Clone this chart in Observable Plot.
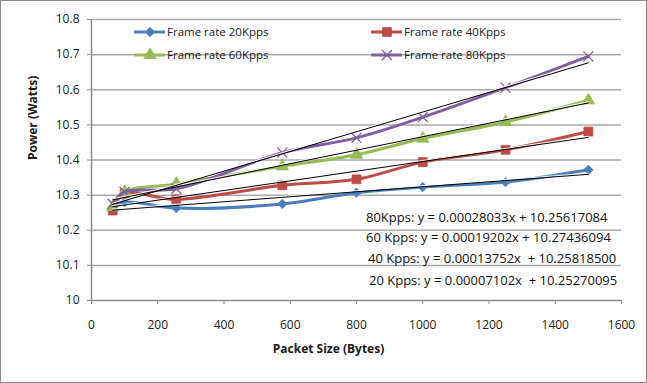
<!DOCTYPE html>
<html><head><meta charset="utf-8">
<script src="https://cdn.jsdelivr.net/npm/d3@7"></script>
<script src="https://cdn.jsdelivr.net/npm/@observablehq/plot@0.6"></script>
<style>
body{margin:0;background:#fff;}
#wrap{position:relative;width:647px;height:383px;font-family:"Open Sans",sans-serif;overflow:hidden;}
#border{position:absolute;left:0;top:0;width:645px;height:381px;border:1px solid #8c8c8c;pointer-events:none;}
.leg{position:absolute;display:flex;align-items:center;font-size:11.5px;color:#1a1a1a;height:16px;line-height:16px;white-space:nowrap;}
.leg svg{margin-right:2px;overflow:visible;}
.eq{position:absolute;font-size:13px;white-space:pre;color:#111;height:16px;line-height:16px;}
</style></head>
<body><div id="wrap"></div>
<script>
// ---- data ----
const packetSize = [64, 100, 256, 576, 800, 1000, 1250, 1500];
const seriesNames = ["Frame rate 20Kpps", "Frame rate 40Kpps", "Frame rate 60Kpps", "Frame rate 80Kpps"];
const power20 = [10.262, 10.280, 10.263, 10.275, 10.307, 10.323, 10.337, 10.372];
const power40 = [10.256, 10.304, 10.288, 10.328, 10.345, 10.394, 10.429, 10.481];
const power60 = [10.266, 10.309, 10.332, 10.382, 10.415, 10.461, 10.508, 10.570];
const power80 = [10.275, 10.309, 10.318, 10.421, 10.463, 10.522, 10.606, 10.695];
const trendSlopes = [0.00007102, 0.00013752, 0.00019202, 0.00028033];
const trendIntercepts = [10.25270095, 10.25818500, 10.27436094, 10.25617084];
const equationLabels = [
  "80Kpps: y = 0.00028033x + 10.25617084",
  "60 Kpps: y = 0.00019202x + 10.27436094",
  "40 Kpps: y = 0.00013752x  + 10.25818500",
  "20 Kpps: y = 0.00007102x  + 10.25270095"
];
const xTicks = [0, 200, 400, 600, 800, 1000, 1200, 1400, 1600];
const yTicks = [10, 10.1, 10.2, 10.3, 10.4, 10.5, 10.6, 10.7, 10.8];
const xTitle = "Packet Size (Bytes)";
const yTitle = "Power (Watts)";

// ---- styles ----
const colors = ["#4A7EBB", "#BE4B48", "#98B954", "#7D60A0"];
const symbols = ["diamond2", "square", "triangle", "times"];
const symRadius = [4.2, 5, 4.6, 4.6];

const allPower = [power20, power40, power60, power80];
const rows = [];
allPower.forEach((vals, i) => vals.forEach((v, j) => rows.push({series: seriesNames[i], x: packetSize[j], y: v})));
const xExt = d3.extent(packetSize);
const trendRows = [];
seriesNames.forEach((s, i) => xExt.forEach(x => trendRows.push({series: s, x, y: trendSlopes[i] * x + trendIntercepts[i]})));

const seriesMarks = [];
seriesNames.forEach((s, i) => {
  const data = rows.filter(d => d.series === s);
  seriesMarks.push(Plot.line(data, {x: "x", y: "y", stroke: colors[i], strokeWidth: 3, curve: "catmull-rom"}));
  const isStroke = symbols[i] === "times";
  seriesMarks.push(Plot.dot(data, {x: "x", y: "y", symbol: () => symbols[i], r: symRadius[i],
    fill: isStroke ? "none" : colors[i], stroke: colors[i], strokeWidth: isStroke ? 1.3 : 0.8}));
});

const chart = Plot.plot({
  width: 647, height: 383,
  marginLeft: 91, marginRight: 26, marginTop: 19, marginBottom: 83,
  style: {fontFamily: "Open Sans, sans-serif", fontSize: "12px", color: "#1a1a1a", background: "white"},
  x: {domain: [0, 1600]},
  y: {domain: [10, 10.8]},
  symbol: {domain: symbols, range: symbols},
  marks: [
    Plot.ruleY(yTicks.slice(1), {stroke: "#a9a9a9", strokeWidth: 1.5}),
    Plot.axisX({ticks: xTicks, tickSize: 4, tickPadding: 16, tickFormat: d => String(d), stroke: "#8c8c8c", label: null, fontSize: 12}),
    Plot.axisY({ticks: yTicks, tickSize: 4, tickPadding: 8, tickFormat: d3.format("~g"), stroke: "#8c8c8c", label: null, fontSize: 12}),
    Plot.ruleY([10], {stroke: "#8c8c8c", strokeWidth: 1.5}),
    Plot.ruleX([0], {stroke: "#8c8c8c", strokeWidth: 1.5}),
    ...seriesMarks,
    Plot.line(trendRows, {x: "x", y: "y", z: "series", stroke: "white", strokeWidth: 1.2, dy: -1, strokeOpacity: 0.9}),
    Plot.line(trendRows, {x: "x", y: "y", z: "series", stroke: "black", strokeWidth: 1}),
    Plot.text([xTitle], {frameAnchor: "bottom", dy: 52, dx: -28, fontWeight: "bold", fontSize: 12}),
    Plot.text([yTitle], {frameAnchor: "left", dx: -58, rotate: -90, fontWeight: "bold", fontSize: 12})
  ]
});

const wrap = document.getElementById("wrap");
wrap.appendChild(chart);

// legend (inside the plot area, 2x2)
const legendPos = [[134, 32], [371, 32], [134, 55], [371, 55]];
seriesNames.forEach((s, i) => {
  const div = document.createElement("div");
  div.className = "leg";
  div.style.left = legendPos[i][0] + "px";
  div.style.top = (legendPos[i][1] - 8) + "px";
  const svg = d3.create("svg").attr("width", 31).attr("height", 16);
  svg.append("line").attr("x1", 0).attr("x2", 31).attr("y1", 8).attr("y2", 8).attr("stroke", colors[i]).attr("stroke-width", 3);
  const symMap = {diamond2: d3.symbolDiamond2, square: d3.symbolSquare, triangle: d3.symbolTriangle, times: d3.symbolTimes};
  const isStroke = symbols[i] === "times";
  svg.append("path").attr("transform", "translate(16,8)")
    .attr("d", d3.symbol(symMap[symbols[i]], Math.PI * symRadius[i] ** 2)())
    .attr("fill", isStroke ? "none" : colors[i]).attr("stroke", colors[i]).attr("stroke-width", isStroke ? 1.3 : 0.8);
  div.appendChild(svg.node());
  div.appendChild(document.createTextNode(s));
  wrap.appendChild(div);
});

// trendline equations
const eqPos = [[366, 217], [366, 237], [368, 258], [369, 280]];
equationLabels.forEach((t, i) => {
  const div = document.createElement("div");
  div.className = "eq";
  div.style.left = eqPos[i][0] + "px";
  div.style.top = (eqPos[i][1] - 8) + "px";
  div.textContent = t;
  wrap.appendChild(div);
});

const border = document.createElement("div");
border.id = "border";
wrap.appendChild(border);
</script>
</body></html>
